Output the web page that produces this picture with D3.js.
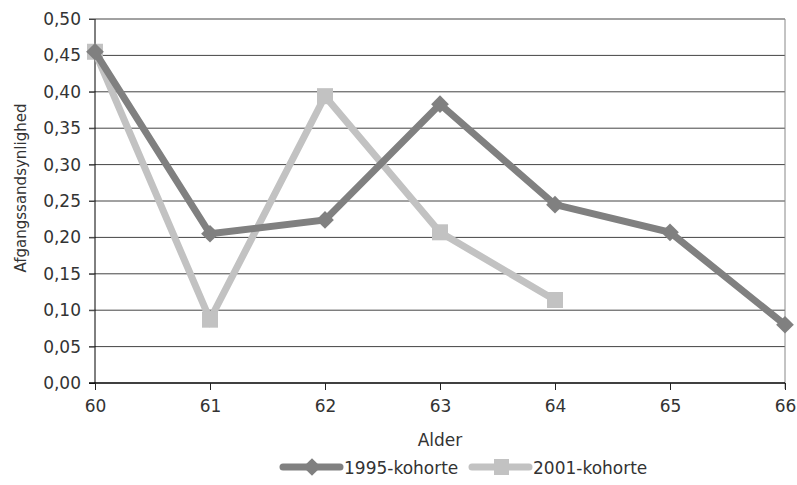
<!DOCTYPE html>
<html>
<head>
<meta charset="utf-8">
<script src="https://cdn.jsdelivr.net/npm/d3@7"></script>
<style>
  body { margin: 0; background: #fff; }
  text { font-family: "DejaVu Sans", sans-serif; fill: #333; }
</style>
</head>
<body>
<div id="chart"></div>
<script>
var ages = [60, 61, 62, 63, 64, 65, 66];
var kohorte1995 = [0.455, 0.205, 0.224, 0.383, 0.245, 0.207, 0.080];
var kohorte2001 = [0.455, 0.087, 0.394, 0.207, 0.114];
var yTicks = [0, 0.05, 0.10, 0.15, 0.20, 0.25, 0.30, 0.35, 0.40, 0.45, 0.50];
var seriesNames = ["1995-kohorte", "2001-kohorte"];

var width = 797, height = 485;
var margin = {top: 19, right: 12, bottom: 102, left: 95};
var w = width - margin.left - margin.right;
var h = height - margin.top - margin.bottom;

var svg = d3.select("#chart").append("svg")
    .attr("width", width)
    .attr("height", height);

var g = svg.append("g")
    .attr("transform", "translate(" + margin.left + "," + margin.top + ")");

var x = d3.scaleLinear().domain([60, 66]).range([0, w]);
var y = d3.scaleLinear().domain([0, 0.5]).range([h, 0]);

var fmt = function (d) { return d3.format(".2f")(d).replace(".", ","); };

// gridlines
g.selectAll(".grid").data(yTicks.slice(1)).enter()
    .append("line")
    .attr("x1", -6).attr("x2", w)
    .attr("y1", function (d) { return y(d); })
    .attr("y2", function (d) { return y(d); })
    .style("stroke", "#444")
    .style("stroke-width", 1);

// right border
g.append("line")
    .attr("x1", w).attr("x2", w).attr("y1", 0).attr("y2", h + 6)
    .style("stroke", "#888").style("stroke-width", 1);

// y axis
var yAxis = g.append("g")
    .call(d3.axisLeft(y).tickValues(yTicks).tickFormat(fmt).tickSize(6).tickPadding(8));
yAxis.select(".domain").style("stroke", "#000").attr("d", "M0," + h + "V0");
yAxis.selectAll("text").style("font-size", "17px");
yAxis.selectAll(".tick line").style("stroke", "#444");

// x axis
var xAxis = g.append("g")
    .attr("transform", "translate(0," + h + ")")
    .call(d3.axisBottom(x).tickValues(ages).tickFormat(d3.format("d")).tickSize(7).tickPadding(10));
xAxis.select(".domain").style("stroke", "#000").style("stroke-width", 1.5).attr("d", "M-6,0H" + w);
xAxis.selectAll("text").style("font-size", "17px");
xAxis.selectAll(".tick line").style("stroke", "#222");

var line = d3.line()
    .x(function (d, i) { return x(ages[i]); })
    .y(function (d) { return y(d); });

var c1 = "#808080", c2 = "#c2c2c2";

g.append("path").datum(kohorte2001)
    .attr("d", line).style("fill", "none")
    .style("stroke", c2).style("stroke-width", 7);
g.selectAll(".sq").data(kohorte2001).enter()
    .append("rect")
    .attr("x", function (d, i) { return x(ages[i]) - 8; })
    .attr("y", function (d) { return y(d) - 8; })
    .attr("width", 16).attr("height", 16)
    .style("fill", c2);

g.append("path").datum(kohorte1995)
    .attr("d", line).style("fill", "none")
    .style("stroke", c1).style("stroke-width", 7);
var diamond = d3.symbol().type(d3.symbolDiamond2).size(200);
g.selectAll(".dm").data(kohorte1995).enter()
    .append("path")
    .attr("d", diamond)
    .attr("transform", function (d, i) { return "translate(" + x(ages[i]) + "," + y(d) + ")"; })
    .style("fill", c1);

// axis titles
svg.append("text")
    .attr("transform", "translate(26,188) rotate(-90)")
    .attr("text-anchor", "middle")
    .style("font-size", "15px")
    .text("Afgangssandsynlighed");

svg.append("text")
    .attr("x", margin.left + w / 2).attr("y", 446)
    .attr("text-anchor", "middle")
    .style("font-size", "17px")
    .text("Alder");

// legend
var legend = svg.append("g").attr("transform", "translate(283,467)");
var lx = [0, 189];
[c1, c2].forEach(function (c, i) {
    var lg = legend.append("g").attr("transform", "translate(" + lx[i] + ",0)");
    lg.append("line").attr("x1", 0).attr("x2", 57).attr("y1", 0).attr("y2", 0)
        .style("stroke", c).style("stroke-width", 7).style("stroke-linecap", "round");
    if (i === 0) {
        lg.append("path").attr("d", diamond).attr("transform", "translate(29,0)").style("fill", c);
    } else {
        lg.append("rect").attr("x", 22).attr("y", -8).attr("width", 15).attr("height", 16).style("fill", c);
    }
    lg.append("text").attr("x", 61).attr("y", 7).style("font-size", "17px").text(seriesNames[i]);
});
</script>
</body>
</html>
